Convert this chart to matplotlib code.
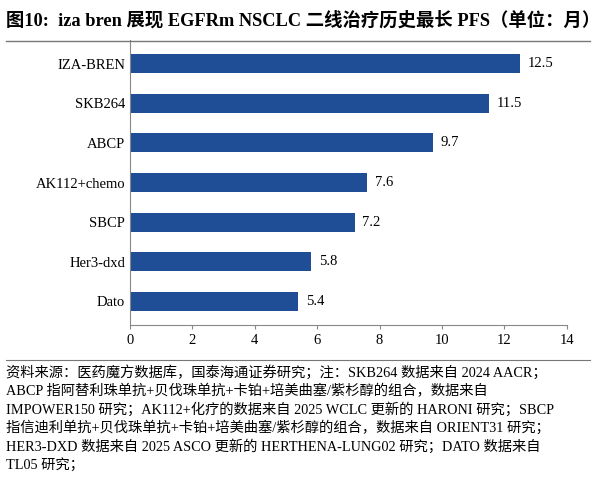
import matplotlib
matplotlib.use("Agg")
import matplotlib.pyplot as plt
from matplotlib.lines import Line2D

categories = ["IZA-BREN", "SKB264", "ABCP", "AK112+chemo", "SBCP", "Her3-dxd", "Dato"]
values = [12.5, 11.5, 9.7, 7.6, 7.2, 5.8, 5.4]
xticks = [0, 2, 4, 6, 8, 10, 12, 14]

plt.rcParams['font.family'] = ['Liberation Serif', 'Noto Sans CJK SC']
fig = plt.figure(figsize=(5.96, 5.0), dpi=100)
ax = fig.add_axes([0.218, 0.35, 0.733, 0.57])
y = list(range(len(categories)))[::-1]
ax.barh(y, values, height=0.48, color="#1F4E96")
for yi, v in zip(y, values):
    ax.text(v + 0.25, yi, f"{v}", va="center", ha="left", fontsize=10.5)
ax.set_yticks(y)
ax.set_yticklabels(categories, fontsize=10.5)
ax.set_xticks(xticks)
ax.set_xticklabels([str(t) for t in xticks], fontsize=10.5)
ax.set_xlim(0, 14)
ax.set_ylim(-0.6, 6.6)
for s in ["top", "right"]:
    ax.spines[s].set_visible(False)
ax.spines["left"].set_color("#888888")
ax.spines["bottom"].set_color("#888888")
ax.tick_params(axis="y", length=0)
ax.tick_params(axis="x", length=3, color="#888888")

fig.text(0.01, 0.978, "图10:  iza bren 展现 EGFRm NSCLC 二线治疗历史最长 PFS（单位：月）",
         fontsize=13.2, fontweight="bold", va="top", ha="left")
fig.add_artist(Line2D([0.01, 0.99], [0.918, 0.918], color="#777777", lw=1))
fig.add_artist(Line2D([0.01, 0.99], [0.28, 0.28], color="#777777", lw=0.8))
foot = ("资料来源：医药魔方数据库，国泰海通证券研究；注：SKB264 数据来自 2024 AACR；\n"
        "ABCP 指阿替利珠单抗+贝伐珠单抗+卡铂+培美曲塞/紫杉醇的组合，数据来自\n"
        "IMPOWER150 研究；AK112+化疗的数据来自 2025 WCLC 更新的 HARONI 研究；SBCP\n"
        "指信迪利单抗+贝伐珠单抗+卡铂+培美曲塞/紫杉醇的组合，数据来自 ORIENT31 研究；\n"
        "HER3-DXD 数据来自 2025 ASCO 更新的 HERTHENA-LUNG02 研究；DATO 数据来自\n"
        "TL05 研究；")
fig.text(0.01, 0.27, foot, fontsize=10.3, va="top", ha="left", linespacing=1.35)
fig.savefig("out.png", dpi=100)
